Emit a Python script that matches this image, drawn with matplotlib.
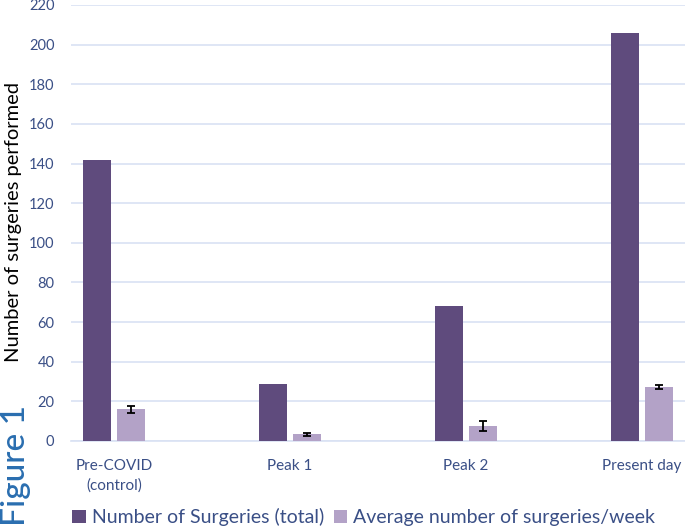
import matplotlib
matplotlib.use('Agg')
import matplotlib.pyplot as plt
import numpy as np

# data
categories = ["Pre-COVID\n(control)", "Peak 1", "Peak 2", "Present day"]
total_surgeries = [142, 29, 68, 206]
weekly_avg = [16.0, 3.4, 7.6, 27.3]
weekly_err = [1.7, 0.85, 2.6, 1.0]

dark = '#5F4B7D'
light = '#B3A2C7'
text_blue = '#3A4F86'
grid_blue = '#D9E2F3'

plt.rcParams['font.family'] = ['Lato', 'DejaVu Sans']

fig = plt.figure(figsize=(6.85, 5.28), dpi=100)
ax = fig.add_axes([71 / 685, 87 / 528, 614 / 685, 436 / 528])

x = np.arange(len(categories))
w = 0.155
ax.bar(x - 0.097, total_surgeries, w, color=dark, zorder=3,
       label='Number of Surgeries (total)')
ax.bar(x + 0.097, weekly_avg, w, color=light, zorder=3,
       label='Average number of surgeries/week')
ax.errorbar(x + 0.097, weekly_avg, yerr=weekly_err, fmt='none', ecolor='black',
            elinewidth=1.3, capsize=3, capthick=1.3, zorder=4)

ax.set_xlim(-0.244, 3.244)
ax.set_ylim(0, 220)
ax.set_yticks(range(0, 221, 20))
ax.yaxis.grid(True, color=grid_blue, linewidth=1.2, zorder=0)
ax.set_xticks(x)
ax.set_xticklabels(categories, color=text_blue, fontsize=11, linespacing=1.5)
ax.tick_params(axis='y', colors=text_blue, labelsize=10.5, length=0, pad=12)
ax.tick_params(axis='x', length=0, pad=13)
for s in ['top', 'right', 'left']:
    ax.spines[s].set_visible(False)
ax.spines['bottom'].set_color(grid_blue)
ax.spines['bottom'].set_linewidth(1.2)

fig.text(14 / 685, 1 - 222 / 528, 'Number of surgeries performed', rotation=90,
         fontsize=14.5, color='black', ha='center', va='center')

fig.text(0.024, 0.003, 'Figure 1', rotation=90, fontsize=24, color='#2A6EB0',
         fontweight='medium', ha='center', va='bottom')

fig.legend(loc='lower left', bbox_to_anchor=(0.08, -0.03), ncol=2, frameon=False,
           fontsize=14, handlelength=0.7, handleheight=0.7, handletextpad=0.3,
           columnspacing=0.5, labelcolor=text_blue)

fig.savefig('out.png', dpi=100)
